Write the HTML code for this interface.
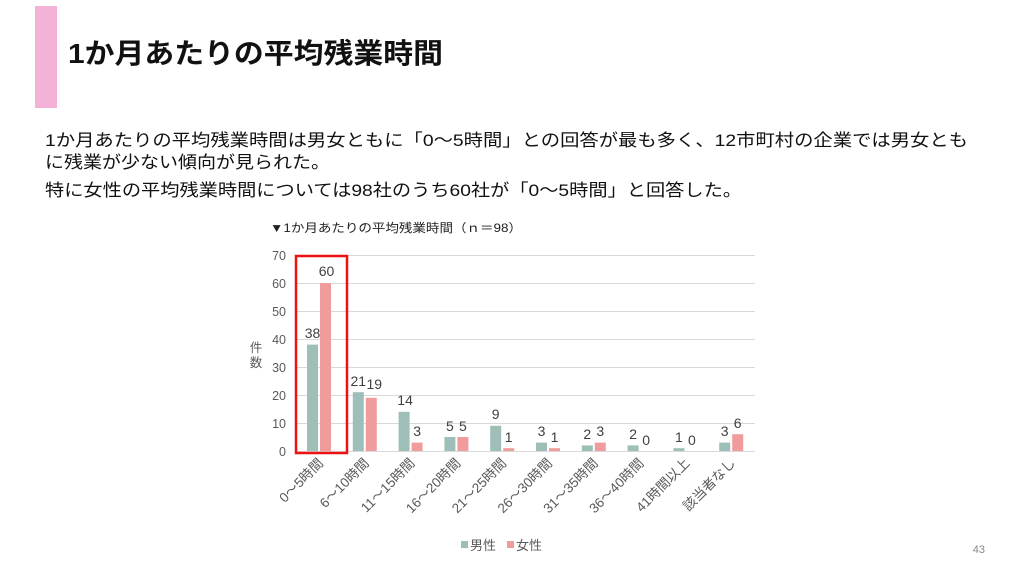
<!DOCTYPE html>
<html><head><meta charset="utf-8"><style>
html,body{margin:0;padding:0;background:#fff;}
svg{display:block;font-family:"Liberation Sans","Noto Sans CJK JP",sans-serif;}
</style></head><body>
<svg width="1024" height="576" viewBox="0 0 1024 576" xmlns="http://www.w3.org/2000/svg">
<rect x="35" y="6" width="22" height="102" fill="#f3b2d6"/>
<text x="68" y="63" font-size="28" font-weight="bold" fill="#111" textLength="375" lengthAdjust="spacingAndGlyphs">1か月あたりの平均残業時間</text>
<g font-size="17" fill="#111">
<text x="45" y="146" textLength="923" lengthAdjust="spacingAndGlyphs">1か月あたりの平均残業時間は男女ともに「0～5時間」との回答が最も多く、12市町村の企業では男女とも</text>
<text x="45" y="168" textLength="285" lengthAdjust="spacingAndGlyphs">に残業が少ない傾向が見られた。</text>
<text x="45" y="196" textLength="697" lengthAdjust="spacingAndGlyphs">特に女性の平均残業時間については98社のうち60社が「0～5時間」と回答した。</text>
</g>
<text x="270" y="232" font-size="12" fill="#222" textLength="252" lengthAdjust="spacingAndGlyphs">▼1か月あたりの平均残業時間（ｎ＝98）</text>
<g stroke="#d9d9d9" stroke-width="1">
<line x1="295" y1="255.5" x2="755" y2="255.5"/><line x1="295" y1="283.5" x2="755" y2="283.5"/>
<line x1="295" y1="311.5" x2="755" y2="311.5"/><line x1="295" y1="339.5" x2="755" y2="339.5"/>
<line x1="295" y1="367.5" x2="755" y2="367.5"/><line x1="295" y1="395.5" x2="755" y2="395.5"/>
<line x1="295" y1="423.5" x2="755" y2="423.5"/><line x1="295" y1="451.5" x2="755" y2="451.5"/>
</g>
<g font-size="12.5" fill="#595959" text-anchor="end">
<text x="286" y="260">70</text><text x="286" y="288">60</text><text x="286" y="316">50</text>
<text x="286" y="344">40</text><text x="286" y="372">30</text><text x="286" y="400">20</text>
<text x="286" y="428">10</text><text x="286" y="456">0</text>
</g>
<text x="256" y="352" font-size="12.5" fill="#595959" text-anchor="middle">件</text>
<text x="256" y="367" font-size="12.5" fill="#595959" text-anchor="middle">数</text>
<g fill="#9dbfb8">
<rect x="307" y="344.6" width="11" height="106.4"/>
<rect x="352.8" y="392.2" width="11" height="58.8"/>
<rect x="398.6" y="411.8" width="11" height="39.2"/>
<rect x="444.4" y="437" width="11" height="14"/>
<rect x="490.2" y="425.8" width="11" height="25.2"/>
<rect x="536" y="442.6" width="11" height="8.4"/>
<rect x="581.8" y="445.4" width="11" height="5.6"/>
<rect x="627.6" y="445.4" width="11" height="5.6"/>
<rect x="673.4" y="448.2" width="11" height="2.8"/>
<rect x="719.2" y="442.6" width="11" height="8.4"/>
</g>
<g fill="#f09c9c">
<rect x="320" y="283" width="11" height="168"/>
<rect x="365.8" y="397.8" width="11" height="53.2"/>
<rect x="411.6" y="442.6" width="11" height="8.4"/>
<rect x="457.4" y="437" width="11" height="14"/>
<rect x="503.2" y="448.2" width="11" height="2.8"/>
<rect x="549" y="448.2" width="11" height="2.8"/>
<rect x="594.8" y="442.6" width="11" height="8.4"/>
<rect x="732.2" y="434.2" width="11" height="16.8"/>
</g>
<g font-size="14" fill="#404040" text-anchor="middle">
<text x="312.5" y="338">38</text><text x="326.5" y="276">60</text>
<text x="358.3" y="386">21</text><text x="374.3" y="389">19</text>
<text x="405.1" y="405">14</text><text x="417.1" y="436">3</text>
<text x="449.9" y="431">5</text><text x="462.9" y="431">5</text>
<text x="495.7" y="419">9</text><text x="508.7" y="442">1</text>
<text x="541.5" y="436">3</text><text x="554.5" y="442">1</text>
<text x="587.3" y="439">2</text><text x="600.3" y="436">3</text>
<text x="633.1" y="439">2</text><text x="646.1" y="445">0</text>
<text x="678.9" y="442">1</text><text x="691.9" y="445">0</text>
<text x="724.7" y="436">3</text><text x="737.7" y="428">6</text>
</g>
<g font-size="13.5" fill="#595959" text-anchor="end">
<text transform="translate(324,464) rotate(-45)">0～5時間</text>
<text transform="translate(369.8,464) rotate(-45)">6～10時間</text>
<text transform="translate(415.6,464) rotate(-45)">11～15時間</text>
<text transform="translate(461.4,464) rotate(-45)">16～20時間</text>
<text transform="translate(507.2,464) rotate(-45)">21～25時間</text>
<text transform="translate(553,464) rotate(-45)">26～30時間</text>
<text transform="translate(598.8,464) rotate(-45)">31～35時間</text>
<text transform="translate(644.6,464) rotate(-45)">36～40時間</text>
<text transform="translate(690.4,464) rotate(-45)">41時間以上</text>
<text transform="translate(736.2,464) rotate(-45)">該当者なし</text>
</g>
<rect x="296" y="256" width="51" height="197" fill="none" stroke="#ee1111" stroke-width="2.5"/>
<g font-size="13" fill="#595959">
<rect x="461" y="541" width="7" height="7" fill="#9dbfb8"/><text x="470" y="550">男性</text>
<rect x="507" y="541" width="7" height="7" fill="#f09c9c"/><text x="516" y="550">女性</text>
</g>
<text x="985" y="553" font-size="11" fill="#888" text-anchor="end">43</text>
</svg>
</body></html>
